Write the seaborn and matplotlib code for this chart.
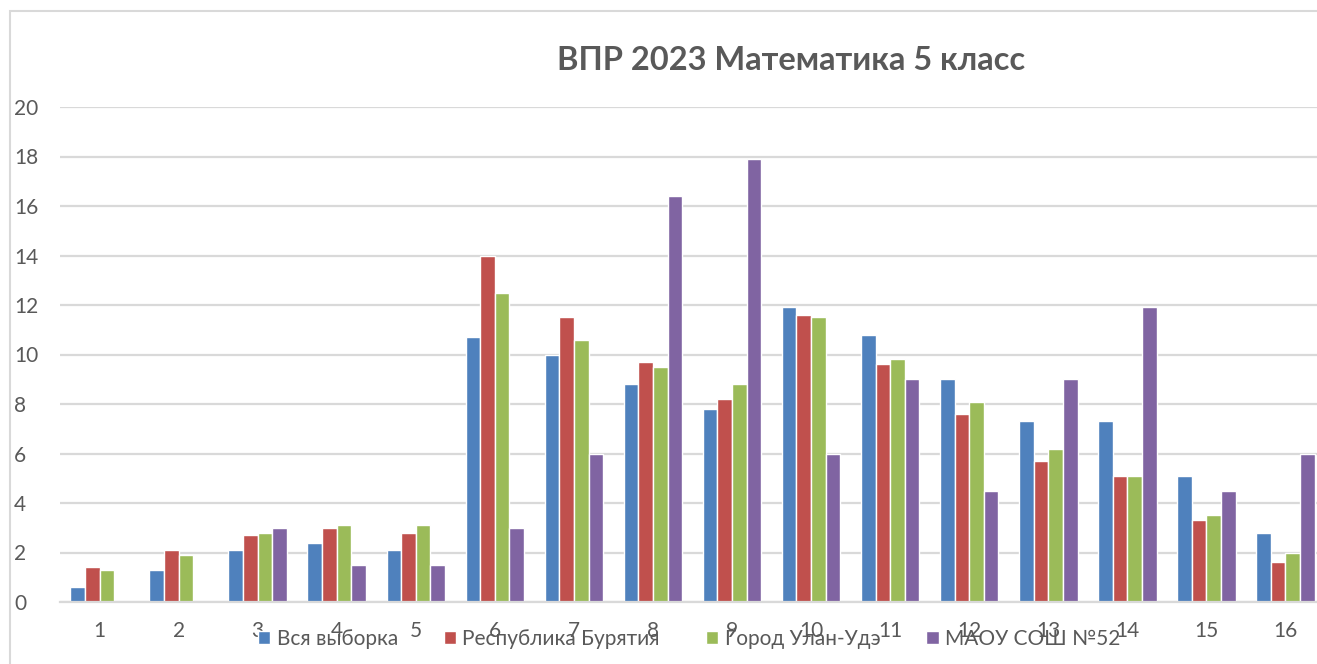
import pandas as pd
import matplotlib.pyplot as plt
import matplotlib.patches as mpatches
import seaborn as sns

# номера заданий и процент по каждой группе
tasks = [str(i) for i in range(1, 17)]
series_names = ['Вся выборка', 'Республика Бурятия', 'Город Улан-Удэ', 'МАОУ СОШ №52']
vsya = [0.6, 1.3, 2.1, 2.4, 2.1, 10.7, 10.0, 8.8, 7.8, 11.9, 10.8, 9.0, 7.3, 7.3, 5.1, 2.8]
buryatia = [1.4, 2.1, 2.7, 3.0, 2.8, 14.0, 11.5, 9.7, 8.2, 11.6, 9.6, 7.6, 5.7, 5.1, 3.3, 1.6]
ulan_ude = [1.3, 1.9, 2.8, 3.1, 3.1, 12.5, 10.6, 9.5, 8.8, 11.5, 9.8, 8.1, 6.2, 5.1, 3.5, 2.0]
school52 = [0.0, 0.0, 3.0, 1.5, 1.5, 3.0, 6.0, 16.4, 17.9, 6.0, 9.0, 4.5, 9.0, 11.9, 4.5, 6.0]
colors = ['#4F81BD', '#C0504D', '#9BBB59', '#8064A2']

df = pd.DataFrame({'task': tasks * 4,
                   'series': [s for s in series_names for _ in tasks],
                   'value': vsya + buryatia + ulan_ude + school52})

sns.set_style('white')
plt.rcParams['font.family'] = ['Lato', 'DejaVu Sans']

fig = plt.figure(figsize=(13.17, 6.64), dpi=100)
ax = fig.add_axes([60 / 1317, 62 / 664, 1265 / 1317, 495 / 664])

sns.barplot(data=df, x='task', y='value', hue='series', hue_order=series_names,
            palette=colors, width=0.74, edgecolor='white', linewidth=1.0,
            saturation=1, ax=ax)

ax.set_ylim(0, 20)
ax.set_xlim(-0.5, 15.5)
ax.set_yticks(range(0, 21, 2))
ax.grid(axis='y', color='#D9D9D9', linewidth=1.6)
ax.set_axisbelow(True)
for s in ['top', 'right', 'left']:
    ax.spines[s].set_visible(False)
ax.spines['bottom'].set_color('#D9D9D9')
ax.spines['bottom'].set_linewidth(1.6)
ax.tick_params(axis='both', length=0, labelsize=15, colors='#595959')
ax.tick_params(axis='x', pad=14)
ax.tick_params(axis='y', pad=33)
for lbl in ax.get_yticklabels():
    lbl.set_horizontalalignment('left')
ax.set_xlabel('')
ax.set_ylabel('')

ax.legend(loc='center', bbox_to_anchor=(689 / 1317, 25 / 664),
          bbox_transform=fig.transFigure, ncol=4, frameon=False,
          fontsize=15, labelcolor='#595959', handlelength=0.6,
          handleheight=0.6, handletextpad=0.3, columnspacing=2.2)

fig.text(791 / 1317, 1 - 60 / 664, 'ВПР 2023 Математика 5 класс',
         ha='center', va='center', fontsize=23.5, fontweight='bold',
         color='#595959')

# серая рамка вокруг диаграммы
fig.patches.append(mpatches.Rectangle((10 / 1317, -0.1), 1.2, 1 - 11 / 664 + 0.1,
                                      transform=fig.transFigure, fill=False,
                                      edgecolor='#D9D9D9', linewidth=1.5))

plt.savefig('out.png', dpi=100)
